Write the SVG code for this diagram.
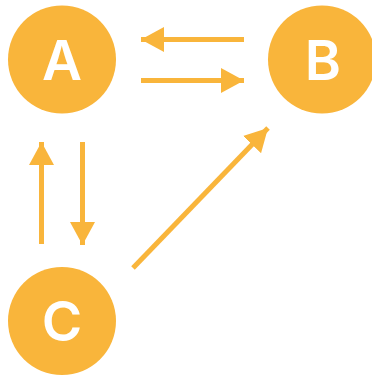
<svg xmlns="http://www.w3.org/2000/svg" width="372" height="375" viewBox="0 0 372 375">
<defs>
<style>
.node{fill:#F9B53B}
.lbl{fill:#fff;font-family:Inter,"Open Sans","Liberation Sans",sans-serif;font-weight:600;font-size:55px;text-anchor:middle}
.edge{stroke:#F9B53B;stroke-width:5;fill:none}
</style>
<marker id="ah" viewBox="0 0 23 25" refX="23" refY="12.5" markerWidth="23" markerHeight="25" markerUnits="userSpaceOnUse" orient="auto">
<path d="M0,0 L23,12.5 L0,25 Z" fill="#F9B53B"/>
</marker>
</defs>
<rect width="372" height="375" fill="#fff"/>
<g id="connectors">
<line class="edge" x1="244" y1="39.5" x2="141" y2="39.5" marker-end="url(#ah)"/>
<line class="edge" x1="141" y1="80.5" x2="244" y2="80.5" marker-end="url(#ah)"/>
<line class="edge" x1="41.5" y1="244" x2="41.5" y2="142" marker-end="url(#ah)"/>
<line class="edge" x1="82.5" y1="142" x2="82.5" y2="245" marker-end="url(#ah)"/>
<line class="edge" x1="133" y1="268" x2="268" y2="128" marker-end="url(#ah)"/>
</g>
<g id="node-A">
<circle class="node" cx="62" cy="59.5" r="54"/>
<text class="lbl" x="62" y="80">A</text>
</g>
<g id="node-B">
<circle class="node" cx="322" cy="59.5" r="54"/>
<text class="lbl" x="323" y="80">B</text>
</g>
<g id="node-C">
<circle class="node" cx="62" cy="321" r="54"/>
<text class="lbl" x="62" y="341">C</text>
</g>
</svg>
